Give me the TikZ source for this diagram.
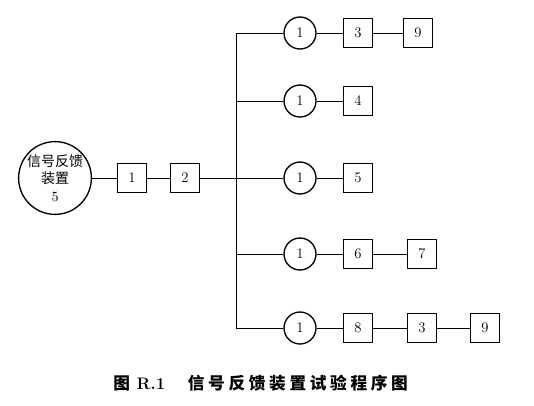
\documentclass[tikz,border=0pt]{standalone}
\usepackage{fontspec}
\newfontfamily\cjk{Noto Sans CJK SC}
\newfontfamily\cjkcap[LetterSpace=22]{Noto Sans CJK SC}
\usetikzlibrary{positioning}

\begin{document}
\begin{tikzpicture}[x=0.75pt, y=-0.75pt, font=\fontsize{11}{13}\selectfont,
    box/.style={draw, line width=1pt, minimum size=22pt, inner sep=0pt},
    ring/.style={draw, circle, line width=1pt, minimum size=24pt, inner sep=0pt},
    link/.style={line width=0.6pt}]
  \useasboundingbox (0,0) rectangle (534,405);
  % source and first two steps
  \node [draw, circle, line width=1pt, minimum size=52.5pt, inner sep=0pt, align=center, font=\fontsize{10.5}{13}\selectfont] (feedback) at (55,178) {{\cjk 信号反馈}\\{\cjk 装置}\\5};
  \node [box] (b1) at (132,178) {1};
  \node [box] (b2) at (185,178) {2};
  \coordinate (trunk) at (236,178);
  \coordinate (top) at (236,33);
  \coordinate (bot) at (236,328);
  \draw [link] (feedback) -- (b1);
  \draw [link] (b1) -- (b2);
  \draw [link] (b2) -- (trunk);
  \draw [link] (top) -- (bot);
  % branch a
  \node [ring] (ra) at (300,33) {1};
  \node [box] (a3) at (358,33) {3};
  \node [box] (a9) at (418,33) {9};
  \draw [link] (top) -- (ra);
  \draw [link] (ra) -- (a3);
  \draw [link] (a3) -- (a9);
  % branch b
  \coordinate (jb) at (236,101);
  \node [ring] (rb) at (300,101) {1};
  \node [box] (b4) at (358,101) {4};
  \draw [link] (jb) -- (rb);
  \draw [link] (rb) -- (b4);
  % branch c
  \node [ring] (rc) at (300,178) {1};
  \node [box] (c5) at (358,178) {5};
  \draw [link] (trunk) -- (rc);
  \draw [link] (rc) -- (c5);
  % branch d
  \coordinate (jd) at (236,254);
  \node [ring] (rd) at (300,254) {1};
  \node [box] (d6) at (358,254) {6};
  \node [box] (d7) at (422,254) {7};
  \draw [link] (jd) -- (rd);
  \draw [link] (rd) -- (d6);
  \draw [link] (d6) -- (d7);
  % branch e
  \node [ring] (re) at (300,328) {1};
  \node [box] (e8) at (358,328) {8};
  \node [box] (e3) at (422,328) {3};
  \node [box] (e9) at (485,328) {9};
  \draw [link] (bot) -- (re);
  \draw [link] (re) -- (e8);
  \draw [link] (e8) -- (e3);
  \draw [link] (e3) -- (e9);
  % caption
  \node [anchor=west, inner sep=0pt, font=\fontsize{12.5}{14}\selectfont] (caption) at (113,383) {{\cjk\bfseries 图}\hspace{5pt}\textbf{R.1}\hspace{17pt}{\cjkcap\bfseries 信号反馈装置试验程序图}};
\end{tikzpicture}
\end{document}
